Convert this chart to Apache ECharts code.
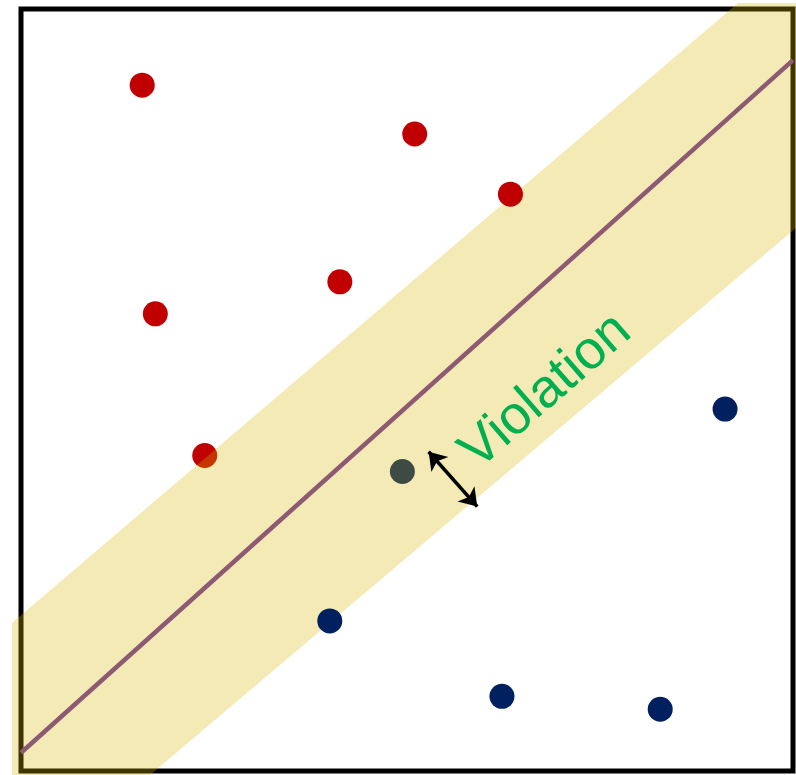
<!DOCTYPE html>
<html>
<head>
<meta charset="utf-8">
<script src="https://cdn.jsdelivr.net/npm/echarts@6/dist/echarts.min.js"></script>
<style>html,body{margin:0;padding:0;background:#fff;}#c{width:796px;height:775px;}</style>
</head>
<body>
<div id="c"></div>
<script>
// Data (value units on a 0..10 x 0..10 square)
const redPointsUnder = [[1.57, 9.00], [5.10, 8.36], [4.13, 6.42], [1.74, 6.00], [2.38, 4.14]];
const redPointsOver = [[6.34, 7.57]];
const bluePointsUnder = [[9.12, 4.75], [6.23, 0.98], [8.28, 0.81], [4.94, 3.93]];
const bluePointsOver = [[4.00, 1.97]];
const boundaryLine = [[0.0, 0.24], [10.0, 9.33]];
const marginBand = [[-0.117, 1.942], [9.288, 10.08], [10.04, 10.08], [10.04, 7.126], [1.671, -0.052], [-0.117, -0.052]];
const violationArrow = [[5.28, 4.19], [5.91, 3.47]];
const violationLabel = { text: 'Violation', at: [6.80, 4.98], angle: 41 };

const chart = echarts.init(document.getElementById('c'), null, { renderer: 'canvas' });
chart.setOption({
  animation: false,
  backgroundColor: '#fff',
  grid: { left: 21, right: 3, top: 9, bottom: 4, show: true, borderColor: '#000', borderWidth: 5, backgroundColor: 'transparent' },
  xAxis: { type: 'value', min: 0, max: 10, show: false },
  yAxis: { type: 'value', min: 0, max: 10, show: false },
  series: [
    { type: 'scatter', z: 1, symbolSize: 25, itemStyle: { color: '#C00000', opacity: 1 }, data: redPointsUnder },
    { type: 'scatter', z: 1, symbolSize: 25, itemStyle: { color: '#002060', opacity: 1 }, data: bluePointsUnder },
    {
      type: 'custom', z: 2, clip: false, silent: true,
      data: [0],
      renderItem: function (params, api) {
        const pts = marginBand.map(p => api.coord(p));
        return { type: 'polygon', shape: { points: pts }, style: { fill: 'rgba(212,184,0,0.29)', stroke: null } };
      }
    },
    { type: 'scatter', z: 3, symbolSize: 25, itemStyle: { color: '#C00000', opacity: 1 }, data: redPointsOver },
    { type: 'scatter', z: 3, symbolSize: 25, itemStyle: { color: '#002060', opacity: 1 }, data: bluePointsOver },
    { type: 'line', z: 3, data: boundaryLine, symbol: 'none', lineStyle: { color: '#8E5A73', width: 4.5 } },
    {
      type: 'lines', z: 4, coordinateSystem: 'cartesian2d', symbol: ['arrow', 'arrow'], symbolSize: 17,
      lineStyle: { color: '#000', width: 3.5, opacity: 1 },
      data: [{ coords: violationArrow }]
    },
    {
      type: 'custom', z: 5, clip: false, silent: true,
      data: [violationLabel.at],
      renderItem: function (params, api) {
        const p = api.coord([api.value(0), api.value(1)]);
        return {
          type: 'text', x: p[0], y: p[1], rotation: violationLabel.angle * Math.PI / 180,
          style: { text: violationLabel.text, fill: '#00B050', font: '54px "Liberation Sans", Arial, sans-serif', align: 'center', verticalAlign: 'middle' }
        };
      }
    }
  ]
});
</script>
</body>
</html>
